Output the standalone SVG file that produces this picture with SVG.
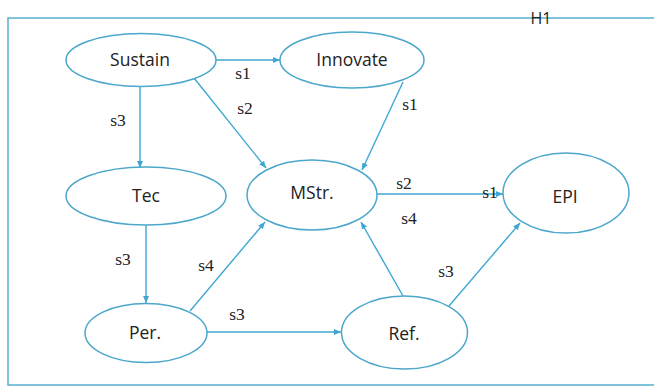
<svg xmlns="http://www.w3.org/2000/svg" width="654" height="387" viewBox="0 0 654 387">
<style>
.node{fill:#ffffff;stroke:#4ca7cb;stroke-width:1.5}
.lbl{font-family:"Open Sans","Noto Sans",sans-serif;font-size:17.5px;fill:#222;text-anchor:middle}
.e{stroke:#3fa6d4;stroke-width:1.4;fill:none}
.el{font-family:"Liberation Serif",serif;font-size:17.5px;fill:#222;text-anchor:middle}
</style>
<defs>
<marker id="ah" markerWidth="8" markerHeight="8" refX="7" refY="4" orient="auto" markerUnits="userSpaceOnUse">
<path d="M0,1 L7,4 L0,7 Z" fill="#3fa6d4"/>
</marker>
</defs>
<rect width="654" height="387" fill="#ffffff"/>
<path d="M654,18 H8 V385 H654" fill="none" stroke="#58b0cf" stroke-width="1.5"/>
<text x="541" y="23.5" style="font-family:'Open Sans','Noto Sans',sans-serif;font-size:16px;fill:#222;text-anchor:middle">H1</text>
<g id="connectors">
<line class="e" x1="216" y1="60" x2="280" y2="60" marker-end="url(#ah)"/>
<line class="e" x1="140" y1="86" x2="140" y2="168" marker-end="url(#ah)"/>
<line class="e" x1="194" y1="78" x2="266" y2="168" marker-end="url(#ah)"/>
<line class="e" x1="403" y1="82" x2="362" y2="170" marker-end="url(#ah)"/>
<line class="e" x1="377" y1="194" x2="503" y2="194" marker-end="url(#ah)"/>
<line class="e" x1="146" y1="225" x2="146" y2="303" marker-end="url(#ah)"/>
<line class="e" x1="190" y1="311" x2="265" y2="222" marker-end="url(#ah)"/>
<line class="e" x1="207" y1="332" x2="341" y2="332" marker-end="url(#ah)"/>
<line class="e" x1="403" y1="296" x2="361" y2="222" marker-end="url(#ah)"/>
<line class="e" x1="449" y1="306" x2="520" y2="223" marker-end="url(#ah)"/>
<text class="el" x="243" y="79">s1</text>
<text class="el" x="245" y="114">s2</text>
<text class="el" x="118" y="126">s3</text>
<text class="el" x="410" y="110">s1</text>
<text class="el" x="404" y="189">s2</text>
<text class="el" x="490" y="198">s1</text>
<text class="el" x="409" y="224">s4</text>
<text class="el" x="123" y="265">s3</text>
<text class="el" x="206" y="271">s4</text>
<text class="el" x="237" y="320">s3</text>
<text class="el" x="446" y="277">s3</text>
</g>
<g id="sustain"><ellipse class="node" cx="141" cy="60" rx="75" ry="26.5"/><text class="lbl" x="140" y="66">Sustain</text></g>
<g id="innovate"><ellipse class="node" cx="352" cy="60" rx="72" ry="28"/><text class="lbl" x="352" y="66">Innovate</text></g>
<g id="tec"><ellipse class="node" cx="146" cy="196" rx="80" ry="29"/><text class="lbl" x="146" y="202">Tec</text></g>
<g id="mstr"><ellipse class="node" cx="312" cy="195" rx="65" ry="35"/><text class="lbl" x="312" y="199">MStr.</text></g>
<g id="epi"><ellipse class="node" cx="566" cy="193" rx="63" ry="40"/><text class="lbl" x="565" y="203">EPI</text></g>
<g id="per"><ellipse class="node" cx="146" cy="333" rx="61" ry="29.5"/><text class="lbl" x="145" y="339">Per.</text></g>
<g id="ref"><ellipse class="node" cx="404.5" cy="332.5" rx="63" ry="36.5"/><text class="lbl" x="404" y="340">Ref.</text></g>
</svg>
